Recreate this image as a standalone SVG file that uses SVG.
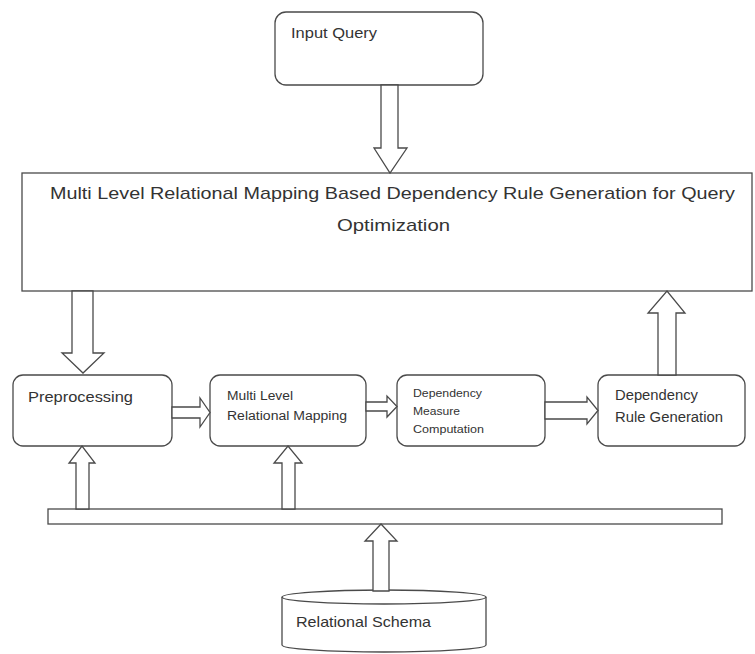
<svg xmlns="http://www.w3.org/2000/svg" width="755" height="654" viewBox="0 0 755 654">
<style>
.box{fill:#fff;stroke:#4a4a4a;stroke-width:1.3}
.arr{fill:#fff;stroke:#4a4a4a;stroke-width:1.3;stroke-linejoin:miter}
.t{font-family:"Liberation Sans",Arial,sans-serif;fill:#333}
</style>
<rect width="755" height="654" fill="#fff"/>
<g id="input-query">
<rect class="box" x="275" y="12" width="208" height="73" rx="11"/>
<text class="t" x="291" y="38" font-size="14" textLength="86" lengthAdjust="spacingAndGlyphs">Input Query</text>
</g>
<g id="main">
<rect class="box" x="22" y="173" width="730" height="118"/>
<text class="t" x="50" y="199" font-size="17" textLength="685" lengthAdjust="spacingAndGlyphs" fill="#222">Multi Level Relational Mapping Based Dependency Rule Generation for Query</text>
<text class="t" x="337" y="231" font-size="17" textLength="113" lengthAdjust="spacingAndGlyphs" fill="#222">Optimization</text>
</g>
<g id="preprocessing">
<rect class="box" x="13" y="375" width="159" height="71" rx="10"/>
<text class="t" x="28" y="402" font-size="15" textLength="105" lengthAdjust="spacingAndGlyphs">Preprocessing</text>
</g>
<g id="mlrm">
<rect class="box" x="210" y="375" width="156" height="71" rx="10"/>
<text class="t" x="227" y="400" font-size="12" textLength="66" lengthAdjust="spacingAndGlyphs">Multi Level</text>
<text class="t" x="227" y="420" font-size="12" textLength="120" lengthAdjust="spacingAndGlyphs">Relational Mapping</text>
</g>
<g id="dmc">
<rect class="box" x="397" y="375" width="148" height="71" rx="10"/>
<text class="t" x="413" y="397" font-size="11" textLength="69" lengthAdjust="spacingAndGlyphs">Dependency</text>
<text class="t" x="413" y="415" font-size="11" textLength="47" lengthAdjust="spacingAndGlyphs">Measure</text>
<text class="t" x="413" y="433" font-size="11" textLength="71" lengthAdjust="spacingAndGlyphs">Computation</text>
</g>
<g id="drg">
<rect class="box" x="598" y="375" width="147" height="71" rx="10"/>
<text class="t" x="615" y="400" font-size="14" textLength="83" lengthAdjust="spacingAndGlyphs">Dependency</text>
<text class="t" x="615" y="422" font-size="14" textLength="108" lengthAdjust="spacingAndGlyphs">Rule Generation</text>
</g>
<g id="bus">
<rect class="box" x="48" y="509" width="674" height="15"/>
</g>
<g id="relational-schema">
<path class="box" d="M282,597 A102,7 0 0,1 486,597 L486,645 A102,7 0 0,1 282,645 Z"/>
<path d="M282,597 A102,7 0 0,0 486,597" fill="none" stroke="#4a4a4a" stroke-width="1.3"/>
<text class="t" x="296" y="627" font-size="15" textLength="135" lengthAdjust="spacingAndGlyphs">Relational Schema</text>
</g>
<g id="connectors">
<polygon class="arr" points="381,85 398,85 398,148 407,148 390,173 374,148 381,148"/>
<polygon class="arr" points="72,291 93,291 93,353 104,353 83,373 62,353 72,353"/>
<polygon class="arr" points="172,407 200,407 200,398 210,412.5 200,427 200,418 172,418"/>
<polygon class="arr" points="366,402 387,402 387,396 397,406.5 387,417 387,411 366,411"/>
<polygon class="arr" points="545,402 587,402 587,397 598,410.5 587,424 587,419 545,419"/>
<polygon class="arr" points="658,375 658,313 648,313 667,291 685,313 676,313 676,375"/>
<polygon class="arr" points="76,509 76,463 69,463 82,446 95,463 89,463 89,509"/>
<polygon class="arr" points="282,509 282,463 274,463 288,446 302,463 295,463 295,509"/>
<polygon class="arr" points="373,591 373,541 365,541 381,524 397,541 389,541 389,591"/>
</g>
</svg>
